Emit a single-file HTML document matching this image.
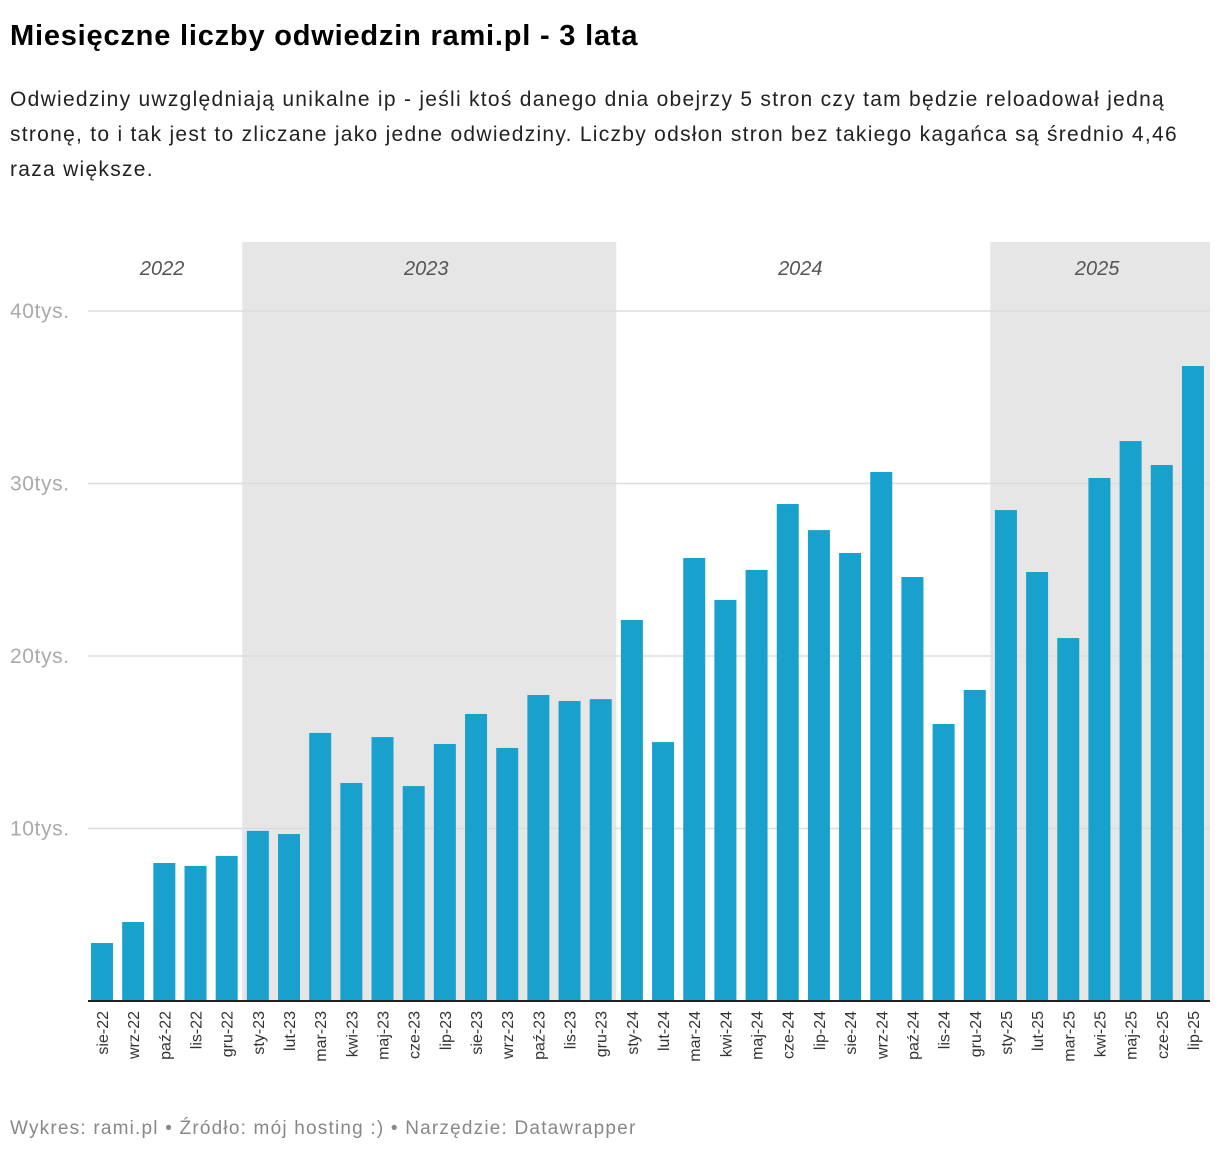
<!DOCTYPE html>
<html><head><meta charset="utf-8">
<style>
body{margin:0;background:#fff;font-family:"Liberation Sans",sans-serif;width:1220px;height:1156px;overflow:hidden;position:relative}
h1{position:absolute;left:10px;top:20px;margin:0;font-size:29px;font-weight:bold;color:#000;letter-spacing:0.8px;white-space:nowrap}
.sub{position:absolute;left:10px;top:82px;width:1210px;font-size:21px;line-height:35px;color:#222;margin:0;letter-spacing:1.28px;white-space:nowrap}
.foot{position:absolute;left:10px;top:1118px;font-size:19px;color:#888;letter-spacing:1.2px;white-space:nowrap}
svg{position:absolute;left:0;top:0}
</style></head><body>
<h1>Miesięczne liczby odwiedzin rami.pl - 3 lata</h1>
<p class="sub">Odwiedziny uwzględniają unikalne ip - jeśli ktoś danego dnia obejrzy 5 stron czy tam będzie reloadował jedną<br>stronę, to i tak jest to zliczane jako jedne odwiedziny. Liczby odsłon stron bez takiego kagańca są średnio 4,46<br>raza większe.</p>
<svg id="chart" width="1220" height="1156"></svg>
<div class="foot">Wykres: rami.pl • Źródło: mój hosting :) • Narzędzie: Datawrapper</div>
<script>
const categories=["sie-22","wrz-22","paź-22","lis-22","gru-22","sty-23","lut-23","mar-23","kwi-23","maj-23","cze-23","lip-23","sie-23","wrz-23","paź-23","lis-23","gru-23","sty-24","lut-24","mar-24","kwi-24","maj-24","cze-24","lip-24","sie-24","wrz-24","paź-24","lis-24","gru-24","sty-25","lut-25","mar-25","kwi-25","maj-25","cze-25","lip-25"];
const visits=[3360,4580,8000,7830,8410,9860,9680,15540,12640,15300,12460,14900,16640,14670,17740,17390,17500,22090,15010,25680,23250,24990,28810,27300,25970,30670,24580,16060,18030,28460,24870,21040,30320,32460,31070,36810];
const yTicks=[10000,20000,30000,40000];
const yTickLabels=["10tys.","20tys.","30tys.","40tys."];
const years=["2022","2023","2024","2025"];
const yearStartIdx=[0,5,17,29];
const yearEndIdx=[4,16,28,35];
const yearShaded=[false,true,false,true];

const svg=document.getElementById('chart');
const NS="http://www.w3.org/2000/svg";
const x0=102,step=31.17,bw=22,base=1001,pxPer=172.5/10000;
const xc=i=>x0+i*step;
const y=v=>base-v*pxPer;
function mk(t,a){const e=document.createElementNS(NS,t);for(const k in a)e.setAttribute(k,a[k]);svg.appendChild(e);return e;}
years.forEach((yr,k)=>{
  const l=k===0?88:xc(yearStartIdx[k])-step/2, r=k===years.length-1?1210:xc(yearEndIdx[k])+step/2;
  if(yearShaded[k]){const b=mk('rect',{x:l,y:242,width:r-l,height:base-242,fill:'#e6e6e6'});
  
  }
  const t=mk('text',{x:(l+r)/2-3,y:275,'text-anchor':'middle','font-size':20,'font-style':'italic',fill:'#555'});
  t.textContent=yr;
  
  
});
yTicks.forEach((v,i)=>{
  const g=mk('line',{x1:88,x2:1210,y1:y(v),y2:y(v),stroke:'#ddd','stroke-width':1.5});
  
  
  const t=mk('text',{x:10,y:y(v)+7,'font-size':21,'letter-spacing':0.6,fill:'#aaa'});
  t.textContent=yTickLabels[i];
  
  
});
visits.forEach((v,i)=>{
  const r=mk('rect',{x:xc(i)-bw/2,y:y(v),width:bw,height:base-y(v),fill:'#18a1cd'});
  
  
  const cx=xc(i);
  const t=mk('text',{x:0,y:0,'font-size':16,fill:'#333','text-anchor':'end',transform:`translate(${cx+6},${base+10}) rotate(-90)`});
  t.textContent=categories[i];
  
  
});
const ax=mk('line',{x1:88,x2:1210,y1:base,y2:base,stroke:'#222','stroke-width':2});


</script>
</body></html>
